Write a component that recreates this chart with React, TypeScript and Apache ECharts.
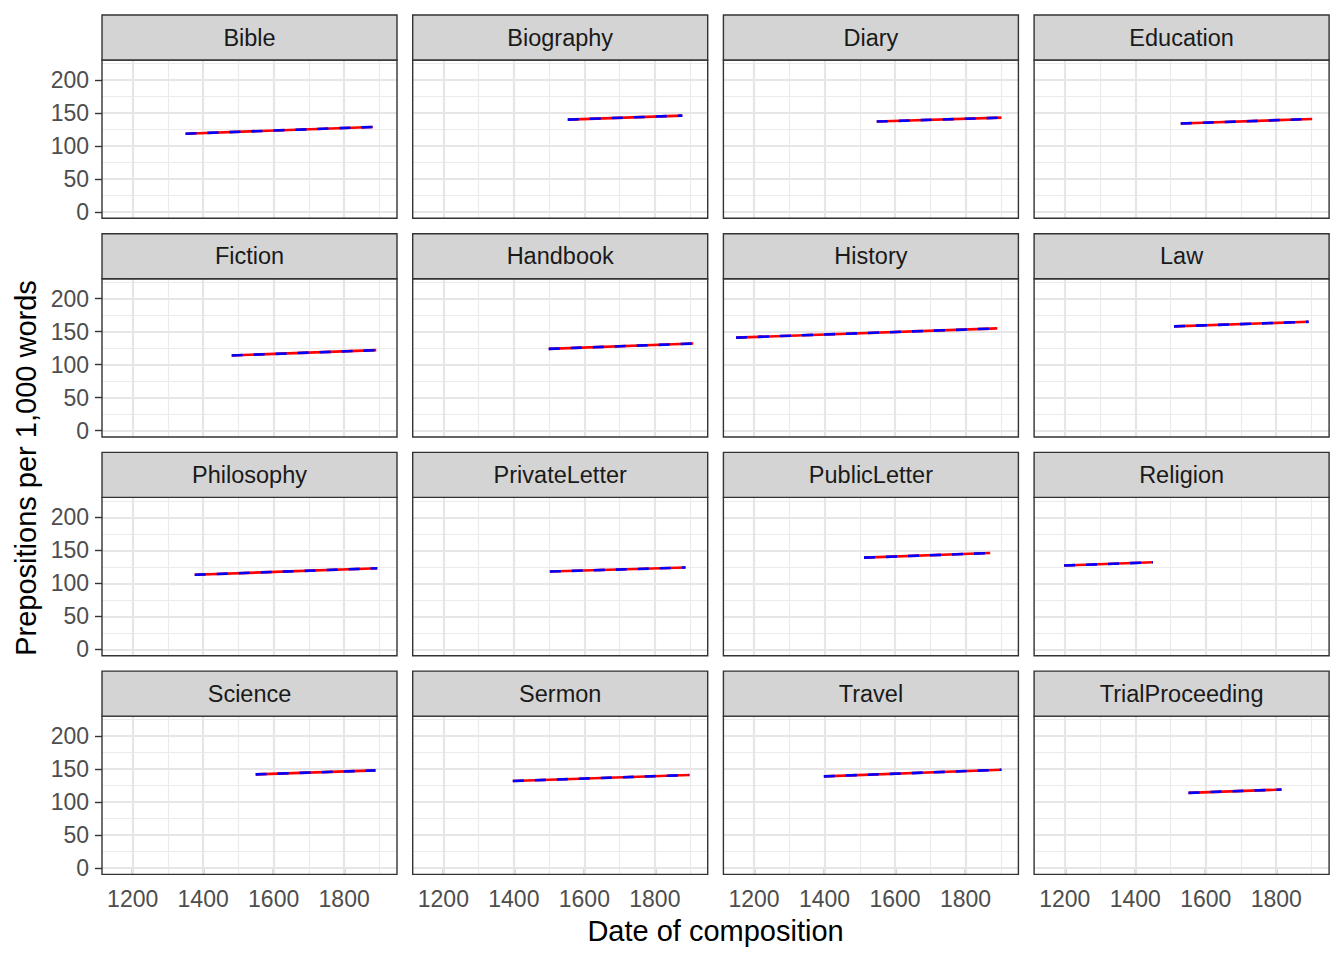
import React, { useEffect, useRef } from "react";
import * as echarts from "echarts";

const genres = [
  "Bible", "Biography", "Diary", "Education",
  "Fiction", "Handbook", "History", "Law",
  "Philosophy", "PrivateLetter", "PublicLetter", "Religion",
  "Science", "Sermon", "Travel", "TrialProceeding",
];
const startYears = [1350, 1553, 1548, 1529, 1481, 1499, 1149, 1510, 1376, 1502, 1512, 1198, 1549, 1397, 1398, 1551];
const endYears = [1881, 1878, 1902, 1902, 1891, 1909, 1890, 1892, 1894, 1887, 1870, 1450, 1889, 1898, 1902, 1815];
const startValues = [118.6, 140, 137, 134, 114, 124, 141, 158, 113, 118, 139, 127, 142, 132, 139, 114];
const endValues = [128.8, 146, 143, 141, 122, 132, 155, 165, 123, 124, 146, 132, 148, 141, 149, 119];

const xTicks = [1200, 1400, 1600, 1800];
const xMinor = [1300, 1500, 1700, 1900];
const yTicks = [0, 50, 100, 150, 200];
const yMinor = [25, 75, 125, 175, 225];

const X_MIN = 1113;
const X_MAX = 1950;
const Y_MIN = -9.6;
const Y_MAX = 230.3;

const COL_LEFT = [102, 412.7, 723.4, 1034.1];
const PANEL_W = 295;
const PANEL_TOP = [60, 278.7, 497.4, 716.1];
const PANEL_H = 158.3;
const STRIP_H = 45;

const FONT = "'Liberation Sans', Arial, Helvetica, sans-serif";

export default function App() {
  const ref = useRef<HTMLDivElement>(null);
  useEffect(() => {
    document.body.style.margin = "0";
    if (!ref.current) return;
    const chart = echarts.init(ref.current, null, { renderer: "svg" });

    const grids: any[] = [];
    const xAxes: any[] = [];
    const yAxes: any[] = [];
    const series: any[] = [];
    const graphics: any[] = [];

    genres.forEach((g, i) => {
      const row = Math.floor(i / 4);
      const col = i % 4;
      const left = COL_LEFT[col];
      const top = PANEL_TOP[row];
      grids.push({
        left, top, width: PANEL_W, height: PANEL_H,
        show: true, backgroundColor: "#FFFFFF", borderWidth: 0,
        containLabel: false,
      });
      const isBottom = row === 3;
      const isLeft = col === 0;
      xAxes.push({
        type: "value", gridIndex: i, min: X_MIN, max: X_MAX,
        axisLine: { show: false },
        splitLine: { show: false },
        axisTick: {
          show: isBottom, customValues: xTicks, length: 7,
          lineStyle: { color: "#333333", width: 1.4 },
        },
        axisLabel: {
          show: isBottom, customValues: xTicks, margin: 13,
          color: "#4D4D4D", fontSize: 23, fontFamily: FONT,
          formatter: (v: number) => String(v),
        },
      });
      yAxes.push({
        type: "value", gridIndex: i, min: Y_MIN, max: Y_MAX,
        axisLine: { show: false },
        splitLine: { show: false },
        axisTick: {
          show: isLeft, customValues: yTicks, length: 7,
          lineStyle: { color: "#333333", width: 1.4 },
        },
        axisLabel: {
          show: isLeft, customValues: yTicks, margin: 13,
          color: "#4D4D4D", fontSize: 23, fontFamily: FONT,
          formatter: (v: number) => String(v),
        },
      });
      const gridLineData: any[] = [];
      xMinor.forEach((v) => gridLineData.push({ xAxis: v, lineStyle: { color: "#EBEBEB", width: 1.2, type: "solid" } }));
      yMinor.forEach((v) => gridLineData.push({ yAxis: v, lineStyle: { color: "#EBEBEB", width: 1.2, type: "solid" } }));
      xTicks.forEach((v) => gridLineData.push({ xAxis: v, lineStyle: { color: "#E6E6E6", width: 2.2, type: "solid" } }));
      yTicks.forEach((v) => gridLineData.push({ yAxis: v, lineStyle: { color: "#E6E6E6", width: 2.2, type: "solid" } }));
      series.push({
        type: "line", xAxisIndex: i, yAxisIndex: i, data: [], z: 1, silent: true,
        markLine: {
          z: 1, zlevel: 0,
          silent: true, symbol: ["none", "none"], label: { show: false },
          emphasis: { disabled: true }, animation: false,
          data: gridLineData,
        },
      });
      const pts = [[startYears[i], startValues[i]], [endYears[i], endValues[i]]];
      series.push({
        type: "line", xAxisIndex: i, yAxisIndex: i, data: pts, z: 10,
        symbol: "none", showSymbol: false, silent: true,
        lineStyle: { color: "#FF0000", width: 2.6, type: "solid", cap: "butt" },
      });
      series.push({
        type: "line", xAxisIndex: i, yAxisIndex: i, data: pts, z: 11,
        symbol: "none", showSymbol: false, silent: true,
        lineStyle: { color: "#0000FF", width: 2.6, type: [11, 11], cap: "butt" },
      });
      graphics.push({
        type: "rect", z: 100, silent: true,
        shape: { x: left, y: top, width: PANEL_W, height: PANEL_H },
        style: { fill: "none", stroke: "#333333", lineWidth: 1.4 },
      });
      graphics.push({
        type: "rect", z: 100, silent: true,
        shape: { x: left, y: top - STRIP_H, width: PANEL_W, height: STRIP_H },
        style: { fill: "#D4D4D4", stroke: "#333333", lineWidth: 1.4 },
      });
      graphics.push({
        type: "text", z: 101, silent: true,
        x: left + PANEL_W / 2, y: top - STRIP_H / 2,
        style: {
          text: g, fill: "#1A1A1A", font: `23.5px ${FONT}`,
          textAlign: "center", textVerticalAlign: "middle",
        },
      });
    });

    graphics.push({
      type: "text", z: 101, silent: true,
      x: (COL_LEFT[0] + COL_LEFT[3] + PANEL_W) / 2, y: 931,
      style: {
        text: "Date of composition", fill: "#000000", font: `29px ${FONT}`,
        textAlign: "center", textVerticalAlign: "middle",
      },
    });
    graphics.push({
      type: "text", z: 101, silent: true,
      x: 26, y: 468, rotation: Math.PI / 2,
      style: {
        text: "Prepositions per 1,000 words", fill: "#000000", font: `29px ${FONT}`,
        textAlign: "center", textVerticalAlign: "middle",
      },
    });

    chart.setOption({
      animation: false,
      backgroundColor: "#FFFFFF",
      grid: grids,
      xAxis: xAxes,
      yAxis: yAxes,
      series,
      graphic: graphics,
    });
    return () => chart.dispose();
  }, []);
  return <div ref={ref} style={{ width: 1344, height: 960 }} />;
}
